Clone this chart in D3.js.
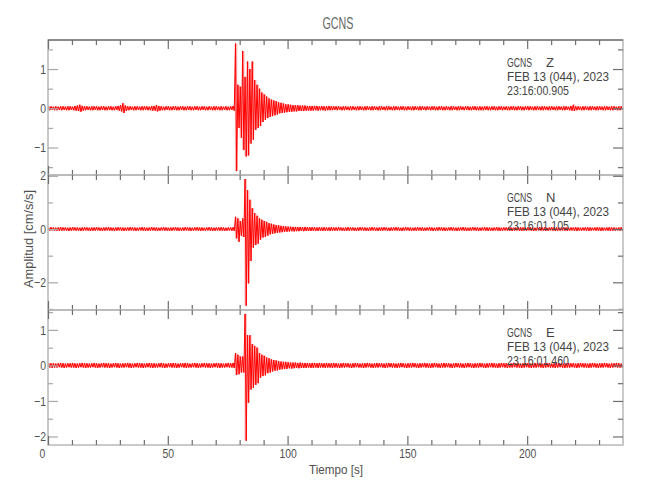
<!DOCTYPE html>
<html><head><meta charset="utf-8">
<script src="https://cdn.jsdelivr.net/npm/d3@7"></script>
<style>
body{margin:0;background:#fff}
svg text{font-family:"Liberation Sans",Arial,sans-serif}
</style>
</head><body>
<svg id="c" width="650" height="500"></svg>
<script>
// ---------- data ----------
const station = "GCNS";
const channels = ["Z", "N", "E"];
const dateLabel = "FEB 13 (044), 2023";
const startTimes = ["23:16:00.905", "23:16:01.105", "23:16:01.460"];
const title = "GCNS";
const xLabel = "Tiempo [s]";
const yLabel = "Amplitud [cm/s/s]";
const timeDomain = [0, 240];
const timeTicks = [0, 50, 100, 150, 200];
const timeMinorTicks = [10,20,30,40,60,70,80,90,110,120,130,140,160,170,180,190,210,220,230];
// axis ranges (cm/s/s)
const zDomain = [-1.70, 1.74];
const nDomain = [-3.04, 2.03];
const eDomain = [-2.24, 1.56];
const zTicks = [-1, 0, 1];
const zMinor = [-1.5, -0.5, 0.5, 1.5];
const nTicks = [-2, 0, 2];
const nMinor = [-3, -1, 1];
const eTicks = [-2, -1, 0, 1];
const eMinor = [-1.5, -0.5, 0.5, 1.5];

// per-second envelope (max / min amplitude in each 1 s bin, t = 0..239 s)
const zMax = [
.05,.05,.04,.05,.04,.05,.05,.04,.05,.05,.04,.06,.07,.09,.06,.05,.05,.04,.05,.05,
.05,.04,.05,.05,.04,.05,.05,.04,.05,.06,.08,.13,.07,.05,.05,.04,.05,.05,.04,.05,
.05,.05,.04,.06,.06,.08,.06,.05,.04,.05,.05,.04,.05,.05,.04,.05,.05,.04,.05,.05,
.04,.05,.05,.04,.05,.05,.04,.05,.04,.05,.05,.04,.05,.04,.05,.04,.05,.06,1.65,.6,
.55,1.46,.8,1.19,1.0,1.19,.72,.6,.5,.4,.35,.3,.25,.22,.2,.18,.15,.14,.12,.1,
.1,.09,.08,.08,.08,.07,.07,.07,.06,.06,.06,.06,.06,.05,.06,.05,.05,.06,.05,.05,
.05,.05,.04,.05,.05,.04,.05,.05,.04,.05,.05,.04,.05,.05,.04,.05,.05,.04,.05,.05,
.04,.05,.05,.04,.05,.05,.04,.05,.05,.04,.05,.04,.05,.05,.04,.05,.05,.04,.05,.04,
.05,.05,.04,.05,.05,.04,.05,.04,.05,.05,.04,.05,.05,.04,.05,.05,.04,.05,.05,.04,
.05,.04,.05,.05,.04,.05,.05,.04,.05,.05,.04,.05,.04,.05,.05,.04,.05,.05,.04,.05,
.05,.05,.04,.05,.05,.04,.05,.05,.04,.05,.05,.04,.05,.05,.04,.05,.05,.04,.06,.09,
.05,.05,.04,.05,.05,.04,.05,.05,.04,.05,.05,.04,.05,.05,.04,.05,.05,.04,.05,.05];
const zMin = [
-.05,-.04,-.05,-.05,-.04,-.05,-.04,-.05,-.05,-.04,-.05,-.06,-.07,-.09,-.06,-.05,-.04,-.05,-.05,-.04,
-.05,-.05,-.04,-.05,-.05,-.04,-.05,-.05,-.04,-.06,-.08,-.12,-.07,-.05,-.04,-.05,-.05,-.04,-.05,-.05,
-.04,-.05,-.05,-.06,-.06,-.08,-.06,-.05,-.05,-.04,-.05,-.05,-.04,-.05,-.05,-.04,-.05,-.05,-.04,-.05,
-.05,-.04,-.05,-.05,-.04,-.05,-.05,-.04,-.05,-.05,-.04,-.05,-.05,-.04,-.05,-.05,-.04,-.06,-1.6,-.5,
-.75,-1.06,-1.23,-1.2,-.9,-.8,-.55,-.5,-.45,-.35,-.3,-.25,-.22,-.2,-.18,-.16,-.13,-.12,-.11,-.1,
-.09,-.09,-.08,-.08,-.07,-.07,-.07,-.06,-.06,-.06,-.06,-.05,-.06,-.05,-.05,-.06,-.05,-.05,-.05,-.04,
-.05,-.04,-.05,-.05,-.04,-.05,-.05,-.04,-.05,-.05,-.04,-.05,-.05,-.04,-.05,-.05,-.04,-.05,-.05,-.04,
-.05,-.05,-.04,-.05,-.05,-.04,-.05,-.04,-.05,-.05,-.04,-.05,-.05,-.04,-.05,-.05,-.04,-.05,-.04,-.05,
-.04,-.05,-.05,-.04,-.05,-.05,-.04,-.05,-.05,-.04,-.05,-.05,-.04,-.05,-.04,-.05,-.05,-.04,-.05,-.05,
-.05,-.05,-.04,-.05,-.05,-.04,-.05,-.05,-.04,-.05,-.04,-.05,-.05,-.04,-.05,-.05,-.04,-.05,-.05,-.04,
-.05,-.04,-.05,-.05,-.04,-.05,-.05,-.04,-.05,-.05,-.04,-.05,-.05,-.04,-.05,-.05,-.04,-.05,-.06,-.07,
-.05,-.04,-.05,-.05,-.04,-.05,-.05,-.04,-.05,-.05,-.04,-.05,-.05,-.04,-.05,-.05,-.04,-.05,-.05,-.04];

const nMax = [
.06,.07,.06,.05,.06,.07,.06,.06,.05,.06,.07,.06,.06,.05,.06,.07,.06,.05,.06,.06,
.07,.06,.05,.06,.06,.07,.06,.05,.06,.07,.06,.06,.05,.06,.07,.06,.06,.05,.06,.07,
.06,.05,.06,.07,.06,.06,.05,.06,.07,.06,.05,.06,.06,.07,.06,.05,.06,.07,.06,.06,
.05,.06,.07,.06,.06,.05,.06,.07,.06,.05,.06,.06,.07,.06,.05,.06,.06,.07,.46,.4,
.3,.4,1.88,1.46,1.1,.78,.6,.5,.4,.35,.3,.27,.22,.2,.17,.15,.14,.12,.11,.1,
.09,.09,.08,.08,.08,.08,.07,.08,.07,.07,.07,.07,.06,.07,.06,.07,.06,.06,.07,.06,
.06,.07,.06,.05,.06,.07,.06,.06,.05,.06,.07,.06,.06,.05,.06,.07,.06,.05,.06,.06,
.07,.06,.05,.06,.06,.07,.06,.05,.06,.07,.06,.06,.05,.06,.07,.06,.06,.05,.06,.07,
.06,.05,.06,.07,.06,.06,.05,.06,.07,.06,.05,.06,.06,.07,.06,.05,.06,.07,.06,.06,
.05,.06,.07,.06,.06,.05,.06,.07,.06,.05,.06,.06,.07,.06,.05,.06,.06,.07,.06,.05,
.06,.07,.06,.05,.06,.07,.06,.06,.05,.06,.07,.06,.06,.05,.06,.07,.06,.05,.06,.06,
.07,.06,.05,.06,.06,.07,.06,.05,.06,.07,.06,.06,.05,.06,.07,.06,.06,.05,.06,.07];
const nMin = [
-.06,-.05,-.06,-.07,-.06,-.06,-.05,-.06,-.07,-.06,-.05,-.06,-.06,-.07,-.06,-.05,-.06,-.07,-.06,-.06,
-.05,-.06,-.07,-.06,-.05,-.06,-.06,-.07,-.06,-.05,-.06,-.07,-.06,-.06,-.05,-.06,-.07,-.06,-.05,-.06,
-.07,-.06,-.06,-.05,-.06,-.07,-.06,-.05,-.06,-.06,-.07,-.06,-.05,-.06,-.07,-.06,-.06,-.05,-.06,-.07,
-.06,-.05,-.06,-.07,-.06,-.06,-.05,-.06,-.07,-.06,-.05,-.06,-.06,-.07,-.06,-.05,-.06,-.07,-.35,-.48,
-.25,-.3,-2.88,-2.04,-1.2,-.7,-.6,-.55,-.4,-.32,-.3,-.25,-.2,-.18,-.16,-.14,-.13,-.12,-.1,-.1,
-.09,-.08,-.09,-.08,-.08,-.07,-.08,-.07,-.07,-.07,-.06,-.07,-.07,-.06,-.07,-.06,-.06,-.07,-.06,-.06,
-.06,-.05,-.06,-.07,-.06,-.06,-.05,-.06,-.07,-.06,-.05,-.06,-.06,-.07,-.06,-.05,-.06,-.07,-.06,-.06,
-.05,-.06,-.07,-.06,-.05,-.06,-.06,-.07,-.06,-.05,-.06,-.07,-.06,-.06,-.05,-.06,-.07,-.06,-.05,-.06,
-.07,-.06,-.06,-.05,-.06,-.07,-.06,-.05,-.06,-.06,-.07,-.06,-.05,-.06,-.07,-.06,-.06,-.05,-.06,-.07,
-.06,-.05,-.06,-.07,-.06,-.06,-.05,-.06,-.07,-.06,-.05,-.06,-.06,-.07,-.06,-.05,-.06,-.07,-.06,-.06,
-.05,-.06,-.07,-.06,-.05,-.06,-.06,-.07,-.06,-.05,-.06,-.07,-.06,-.06,-.05,-.06,-.07,-.06,-.05,-.06,
-.07,-.06,-.06,-.05,-.06,-.07,-.06,-.05,-.06,-.06,-.07,-.06,-.05,-.06,-.07,-.06,-.06,-.05,-.06,-.07];

const eMax = [
.07,.06,.06,.05,.06,.07,.06,.05,.06,.06,.07,.06,.05,.06,.07,.06,.06,.05,.06,.07,
.06,.05,.06,.07,.06,.06,.05,.06,.07,.06,.05,.06,.06,.07,.06,.05,.06,.07,.06,.06,
.05,.06,.07,.06,.06,.05,.06,.07,.06,.05,.06,.06,.07,.06,.05,.06,.06,.07,.06,.05,
.06,.07,.06,.05,.06,.07,.06,.06,.05,.06,.07,.06,.06,.05,.06,.07,.06,.07,.35,.3,
.25,.25,1.45,.85,.85,.6,.55,.5,.35,.3,.27,.22,.2,.17,.15,.14,.12,.11,.1,.1,
.09,.08,.08,.08,.07,.08,.07,.07,.07,.06,.07,.07,.06,.07,.06,.06,.07,.06,.06,.07,
.06,.05,.06,.07,.06,.06,.05,.06,.07,.06,.05,.06,.06,.07,.06,.05,.06,.07,.06,.06,
.05,.06,.07,.06,.06,.05,.06,.07,.06,.05,.06,.06,.07,.06,.05,.06,.06,.07,.06,.05,
.06,.07,.06,.05,.06,.07,.06,.06,.05,.06,.07,.06,.06,.05,.06,.07,.06,.05,.06,.06,
.07,.06,.05,.06,.06,.07,.06,.05,.06,.07,.06,.06,.05,.06,.07,.06,.06,.05,.06,.07,
.06,.05,.06,.07,.06,.06,.05,.06,.07,.06,.05,.06,.06,.07,.06,.05,.06,.07,.06,.06,
.05,.06,.07,.06,.06,.05,.06,.07,.06,.05,.06,.06,.07,.06,.05,.06,.06,.07,.06,.05];
const eMin = [
-.06,-.07,-.06,-.06,-.05,-.06,-.07,-.06,-.05,-.06,-.06,-.07,-.06,-.05,-.06,-.07,-.06,-.06,-.05,-.06,
-.07,-.06,-.05,-.06,-.06,-.07,-.06,-.05,-.06,-.07,-.06,-.06,-.05,-.06,-.07,-.06,-.05,-.06,-.06,-.07,
-.06,-.05,-.06,-.07,-.06,-.06,-.05,-.06,-.07,-.06,-.05,-.06,-.06,-.07,-.06,-.05,-.06,-.07,-.06,-.06,
-.05,-.06,-.07,-.06,-.05,-.06,-.06,-.07,-.06,-.05,-.06,-.07,-.06,-.06,-.05,-.06,-.06,-.07,-.27,-.25,
-.2,-.2,-2.12,-1.05,-.68,-.63,-.55,-.5,-.35,-.3,-.28,-.22,-.2,-.17,-.15,-.14,-.12,-.11,-.1,-.1,
-.08,-.09,-.08,-.07,-.08,-.07,-.07,-.07,-.06,-.07,-.07,-.06,-.07,-.06,-.06,-.07,-.06,-.06,-.07,-.06,
-.06,-.07,-.06,-.06,-.05,-.06,-.07,-.06,-.05,-.06,-.06,-.07,-.06,-.05,-.06,-.07,-.06,-.06,-.05,-.06,
-.07,-.06,-.05,-.06,-.06,-.07,-.06,-.05,-.06,-.07,-.06,-.06,-.05,-.06,-.07,-.06,-.05,-.06,-.06,-.07,
-.06,-.05,-.06,-.07,-.06,-.06,-.05,-.06,-.07,-.06,-.05,-.06,-.06,-.07,-.06,-.05,-.06,-.07,-.06,-.06,
-.05,-.06,-.07,-.06,-.05,-.06,-.06,-.07,-.06,-.05,-.06,-.07,-.06,-.06,-.05,-.06,-.06,-.07,-.06,-.05,
-.06,-.07,-.06,-.06,-.05,-.06,-.07,-.06,-.05,-.06,-.06,-.07,-.06,-.05,-.06,-.07,-.06,-.06,-.05,-.06,
-.07,-.06,-.05,-.06,-.06,-.07,-.06,-.05,-.06,-.07,-.06,-.06,-.05,-.06,-.07,-.06,-.05,-.06,-.06,-.07];

// ---------- drawing ----------
const svg = d3.select("#c");
const left = 48, right = 623, panelH = 135;
const panelTops = [40, 175, 310];
const x = d3.scaleLinear().domain(timeDomain).range([left, right]);
const frameCol = "#b8b8b8", tickCol = "#6e6e6e", leftTickCol = "#a8a8a8", textCol = "#505050";

// narrow, plotter-like lettering: squeeze each text horizontally
function squeeze(sel, k) {
  sel.each(function () {
    const n = this.getComputedTextLength();
    if (n > 0) d3.select(this).attr("textLength", n * k).attr("lengthAdjust", "spacingAndGlyphs");
  });
}
function fitTo(sel, w) { sel.attr("textLength", w).attr("lengthAdjust", "spacingAndGlyphs"); }

const panels = [
  {max: zMax, min: zMin, domain: zDomain, major: zTicks, minor: zMinor},
  {max: nMax, min: nMin, domain: nDomain, major: nTicks, minor: nMinor},
  {max: eMax, min: eMin, domain: eDomain, major: eTicks, minor: eMinor}
];

function axisG(g, gen, tx, ty, col) {
  const a = g.append("g").attr("transform", `translate(${tx},${ty})`).call(gen);
  a.select(".domain").remove();
  a.attr("color", col).attr("font-size", null).attr("font-family", null);
  a.selectAll("line").attr("stroke-width", 1.2);
  a.selectAll("text").attr("fill", textCol).style("font-size", "13px");
  return a;
}

panels.forEach((p, i) => {
  const top = panelTops[i], bottom = top + panelH;
  const y = d3.scaleLinear().domain(p.domain).range([bottom, top]);
  const g = svg.append("g");

  svg.append("clipPath").attr("id", "clip" + i).append("rect")
    .attr("x", left).attr("y", top).attr("width", right - left).attr("height", panelH);

  const tr = g.append("g").attr("clip-path", `url(#clip${i})`);
  // dense sample cloud between the per-second extremes (light), then the trace itself
  const bins = p.max.map((v, k) => ({t: k, hi: v, lo: p.min[k]}));
  tr.append("path")
    .attr("d", d3.area().curve(d3.curveStep)
      .x(d => x(d.t + 0.5)).y0(d => y(d.lo)).y1(d => y(d.hi))(bins))
    .attr("fill", "#ff0000").attr("fill-opacity", 0.28);
  const pts = [];
  bins.forEach(d => { pts.push([d.t + 0.25, d.hi]); pts.push([d.t + 0.75, d.lo]); });
  tr.append("path")
    .attr("d", d3.line().x(d => x(d[0])).y(d => y(d[1]))(pts))
    .attr("fill", "none").attr("stroke", "#ff0000").attr("stroke-width", 1);

  // frame
  g.append("rect").attr("x", left).attr("y", top).attr("width", right - left).attr("height", panelH)
    .attr("fill", "none").attr("stroke", frameCol).attr("stroke-width", 1.5);
  if (i === 0) {
    g.append("line").attr("x1", left).attr("x2", right).attr("y1", top).attr("y2", top)
      .attr("stroke", "#777").attr("stroke-width", 1.5);
  }

  // y axes
  const ly = axisG(g, d3.axisLeft(y).tickValues(p.major).tickSize(-10).tickPadding(2)
      .tickFormat(d3.format("d")), left, 0, leftTickCol);
  squeeze(ly.selectAll("text"), 0.8);
  axisG(g, d3.axisLeft(y).tickValues(p.minor).tickSize(-5).tickFormat(""), left, 0, leftTickCol);
  axisG(g, d3.axisRight(y).tickValues(p.major).tickSize(-10).tickFormat(""), right, 0, tickCol);
  axisG(g, d3.axisRight(y).tickValues(p.minor).tickSize(-5).tickFormat(""), right, 0, tickCol);

  // x axes
  axisG(g, d3.axisTop(x).tickValues(timeTicks).tickSize(-9).tickFormat(""), 0, top, tickCol);
  axisG(g, d3.axisTop(x).tickValues(timeMinorTicks).tickSize(-5).tickFormat(""), 0, top, tickCol);
  const bx = axisG(g, d3.axisBottom(x).tickValues(timeTicks).tickSize(-9).tickPadding(4)
      .tickFormat(i === 2 ? d3.format("d") : ""), 0, bottom, tickCol);
  axisG(g, d3.axisBottom(x).tickValues(timeMinorTicks).tickSize(-5).tickFormat(""), 0, bottom, tickCol);
  if (i === 2) {
    bx.selectAll("text").filter(d => d === 0).attr("dx", -6);
    squeeze(bx.selectAll("text"), 0.8);
  }

  // annotation
  const ann = g.append("g").attr("fill", "#444").style("font-size", "13px");
  fitTo(ann.append("text").attr("x", 507).attr("y", top + 26.5).text(station), 25);
  ann.append("text").attr("x", 546).attr("y", top + 26.5).text(channels[i]);
  fitTo(ann.append("text").attr("x", 507).attr("y", top + 40.5).text(dateLabel), 102);
  fitTo(ann.append("text").attr("x", 507).attr("y", top + 54.5).text(startTimes[i]), 62);
});

fitTo(svg.append("text").attr("x", 338).attr("y", 29).attr("text-anchor", "middle")
  .attr("fill", "#666").style("font-size", "17px").text(title), 31);
fitTo(svg.append("text").attr("x", 336).attr("y", 474).attr("text-anchor", "middle")
  .attr("fill", textCol).style("font-size", "13px").text(xLabel), 54);
fitTo(svg.append("text").attr("transform", "translate(33,239) rotate(-90)").attr("text-anchor", "middle")
  .attr("fill", textCol).style("font-size", "13px").text(yLabel), 98);
</script>
</body></html>
